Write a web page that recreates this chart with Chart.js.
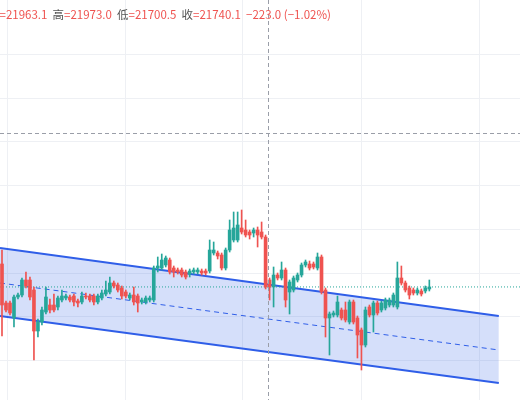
<!DOCTYPE html>
<html>
<head>
<meta charset="utf-8">
<script src="https://cdn.jsdelivr.net/npm/chart.js@4.4.0/dist/chart.umd.min.js"></script>
<style>
  html, body { margin: 0; padding: 0; background: #fff; }
  #wrap { width: 520px; height: 400px; }
</style>
</head>
<body>
<div id="wrap"><canvas id="kline"></canvas></div>
<script>
// ── OHLC data ──
const opens = [21786,21708,21708,21678,21720,21724,21754,21754,21734,21652,21670,21690,21704,21704,21700,21714,21718,21720,21722,21712,
  21710,21722,21722,21722,21710,21718,21726,21730,21748,21744,21738,21730,21718,21724,21722,21710,21710,21714,21714,21778,
  21778,21784,21794,21778,21774,21774,21770,21766,21770,21770,21772,21772,21772,21808,21808,21804,21778,21814,21834,21834,
  21858,21854,21850,21848,21854,21850,21840,21754,21740,21764,21758,21774,21730,21734,21754,21764,21784,21786,21786,21778,
  21800,21734,21678,21684,21684,21694,21694,21670,21710,21678,21654,21624,21700,21684,21708,21694,21698,21704,21704,21700,
  21758,21748,21738,21734,21728,21732,21732,21736];
const highs = [21814,21712,21712,21724,21728,21758,21770,21760,21740,21676,21700,21740,21716,21726,21722,21734,21726,21724,21726,21716,
  21730,21728,21726,21726,21726,21734,21752,21760,21752,21748,21742,21734,21728,21740,21726,21718,21722,21722,21782,21800,
  21806,21802,21798,21782,21778,21778,21774,21776,21778,21778,21776,21776,21834,21830,21812,21808,21818,21874,21890,21890,
  21894,21874,21854,21858,21860,21870,21844,21758,21780,21768,21790,21778,21754,21762,21768,21788,21794,21792,21790,21808,
  21804,21738,21690,21692,21722,21698,21710,21714,21714,21682,21658,21700,21704,21712,21712,21712,21718,21718,21728,21790,
  21782,21752,21742,21738,21738,21736,21742,21754];
const lows = [21642,21690,21684,21660,21716,21720,21738,21714,21594,21640,21664,21686,21688,21690,21694,21710,21714,21710,21702,21700,
  21706,21716,21710,21704,21706,21714,21722,21726,21738,21730,21716,21718,21714,21704,21690,21706,21706,21710,21710,21770,
  21774,21780,21766,21760,21766,21760,21756,21760,21766,21766,21764,21764,21768,21804,21796,21774,21774,21810,21830,21830,
  21846,21840,21836,21840,21820,21836,21736,21714,21700,21754,21754,21700,21686,21730,21750,21760,21780,21774,21776,21774,
  21726,21640,21604,21680,21680,21674,21670,21666,21666,21598,21574,21620,21680,21650,21684,21690,21694,21700,21700,21696,
  21744,21730,21716,21724,21724,21722,21728,21732];
const closes = [21704,21694,21688,21720,21724,21754,21742,21720,21652,21670,21694,21720,21694,21694,21718,21722,21722,21714,21710,21708,
  21722,21720,21714,21710,21722,21728,21734,21748,21742,21734,21722,21722,21724,21710,21708,21714,21718,21718,21778,21782,
  21794,21798,21770,21770,21770,21764,21760,21772,21774,21774,21768,21768,21814,21814,21802,21778,21814,21854,21858,21864,
  21850,21844,21844,21854,21844,21840,21740,21740,21764,21758,21774,21714,21750,21758,21764,21784,21790,21778,21780,21800,
  21730,21678,21686,21688,21710,21678,21674,21710,21670,21644,21624,21694,21684,21708,21688,21708,21714,21714,21724,21758,
  21748,21734,21724,21728,21734,21726,21738,21740.1];

// regression channel (start / end)
const channelX = [-0.5, 124.4];
const upperBand = [21818, 21682];
const midBand = [21748, 21614];
const lowerBand = [21682, 21548];

const lastClose = 21740.1;
const crossX = 66.6, crossY = 22048;
const xGrid = [1.3, 30.9, 60.3, 89.9, 119.6];
const yGrid = [22205, 22118, 22032, 21944, 21856, 21768, 21682, 21594];

const UP = '#26a69a', DOWN = '#ef5350', BAND = '#2f5ee8';

const idx = opens.map((_, i) => i);
const colors = idx.map(i => closes[i] >= opens[i] ? UP : DOWN);

const pts = (ys) => channelX.map((x, i) => ({ x, y: ys[i] }));

// ── overlay: crosshair + header text ──
const overlay = {
  id: 'overlay',
  afterDraw(chart) {
    const { ctx, chartArea: a, scales: { x, y } } = chart;
    ctx.save();
    ctx.strokeStyle = '#9a9ea8';
    ctx.lineWidth = 1;
    ctx.setLineDash([4, 3]);
    const cx = Math.round(x.getPixelForValue(crossX)) + 0.5;
    const cy = Math.round(y.getPixelForValue(crossY)) + 0.5;
    ctx.beginPath(); ctx.moveTo(cx, a.top); ctx.lineTo(cx, a.bottom); ctx.stroke();
    ctx.beginPath(); ctx.moveTo(a.left, cy); ctx.lineTo(a.right, cy); ctx.stroke();
    ctx.setLineDash([]);
    // header
    ctx.font = '11.5px "Noto Sans CJK SC", "DejaVu Sans", sans-serif';
    ctx.textBaseline = 'middle';
    const parts = [['开', '#555'], ['=21963.1  ', DOWN], ['高', '#555'], ['=21973.0  ', DOWN], ['低', '#555'], ['=21700.5  ', DOWN],
      ['收', '#555'], ['=21740.1  ', DOWN], ['−223.0 (−1.02%)', DOWN]];
    let px = -12;
    parts.forEach(([t, c]) => { ctx.fillStyle = c; ctx.fillText(t, px, 15); px += ctx.measureText(t).width; });
    ctx.restore();
  }
};

new Chart(document.getElementById('kline'), {
  data: {
    datasets: [
      { type: 'line', label: 'upper', data: pts(upperBand), borderColor: BAND, borderWidth: 2, pointRadius: 0, fill: false, order: 5 },
      { type: 'line', label: 'lower', data: pts(lowerBand), borderColor: BAND, borderWidth: 2, pointRadius: 0, fill: 0, backgroundColor: 'rgba(47,94,232,0.2)', order: 5 },
      { type: 'line', label: 'mid', data: pts(midBand), borderColor: BAND, borderWidth: 1, borderDash: [5, 4], pointRadius: 0, fill: false, order: 4 },
      { type: 'line', label: 'last', data: [{ x: -0.5, y: lastClose }, { x: 130, y: lastClose }], borderColor: UP, borderWidth: 1, borderDash: [1, 2], pointRadius: 0, fill: false, order: 3 },
      { type: 'bar', label: 'wick', data: idx.map(i => ({ x: i, y: [lows[i], highs[i]] })), backgroundColor: colors, barThickness: 1, order: 2 },
      { type: 'bar', label: 'body', data: idx.map(i => ({ x: i, y: [opens[i], closes[i] === opens[i] ? closes[i] + 1 : closes[i]] })), backgroundColor: colors, barThickness: 3, order: 1 }
    ]
  },
  options: {
    responsive: true, maintainAspectRatio: false, animation: false,
    layout: { padding: 0 },
    plugins: { legend: { display: false }, tooltip: { enabled: false } },
    scales: {
      x: {
        type: 'linear', min: -0.5, max: 129.7, offset: false, stacked: true,
        afterBuildTicks: s => { s.ticks = xGrid.map(v => ({ value: v })); },
        ticks: { display: false }, grid: { color: '#eef0f4', drawTicks: false, offset: false }, border: { display: false }
      },
      y: {
        min: 21514, max: 22314,
        afterBuildTicks: s => { s.ticks = yGrid.map(v => ({ value: v })); },
        ticks: { display: false }, grid: { color: '#eef0f4', drawTicks: false }, border: { display: false }
      }
    }
  },
  plugins: [overlay]
});
</script>
</body>
</html>
